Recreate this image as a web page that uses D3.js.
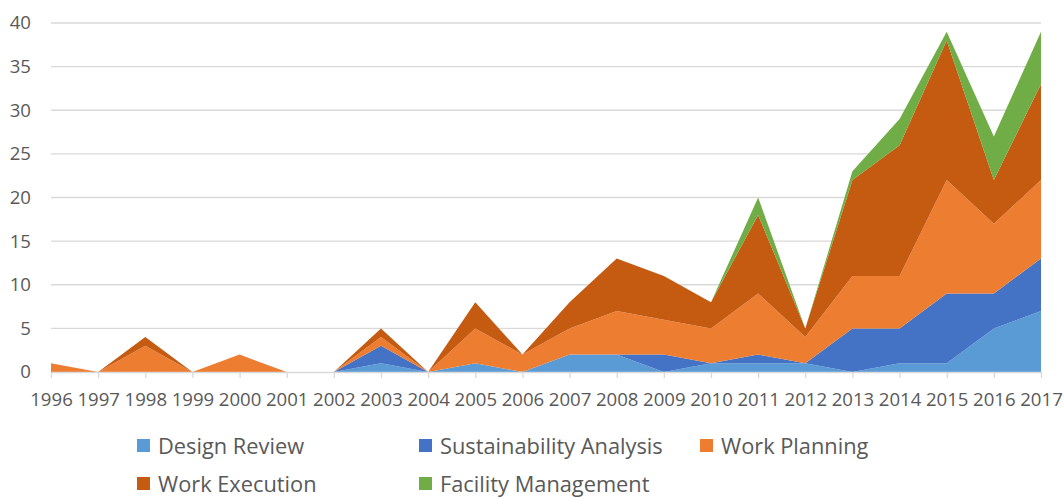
<!DOCTYPE html>
<html>
<head>
<meta charset="utf-8">
<script src="https://cdn.jsdelivr.net/npm/d3@7"></script>
<style>
  html, body { margin: 0; padding: 0; background: #fff; }
  svg { display: block; font-family: "Open Sans", "Liberation Sans", sans-serif; }
</style>
</head>
<body>
<svg id="chart" width="1064" height="498"></svg>
<script>
// Yearly publication counts per application area
const years = [1996, 1997, 1998, 1999, 2000, 2001, 2002, 2003, 2004, 2005, 2006,
               2007, 2008, 2009, 2010, 2011, 2012, 2013, 2014, 2015, 2016, 2017];
const designReview           = [0, 0, 0, 0, 0, 0, 0, 1, 0, 1, 0, 2, 2, 0, 1, 1, 1, 0, 1, 1, 5, 7];
const sustainabilityAnalysis = [0, 0, 0, 0, 0, 0, 0, 2, 0, 0, 0, 0, 0, 2, 0, 1, 0, 5, 4, 8, 4, 6];
const workPlanning           = [1, 0, 3, 0, 2, 0, 0, 1, 0, 4, 2, 3, 5, 4, 4, 7, 3, 6, 6, 13, 8, 9];
const workExecution          = [0, 0, 1, 0, 0, 0, 0, 1, 0, 3, 0, 3, 6, 5, 3, 9, 1, 11, 15, 16, 5, 11];
const facilityManagement     = [0, 0, 0, 0, 0, 0, 0, 0, 0, 0, 0, 0, 0, 0, 0, 2, 0, 1, 3, 1, 5, 6];
const seriesNames = ["Design Review", "Sustainability Analysis", "Work Planning",
                     "Work Execution", "Facility Management"];
const seriesColors = ["#5B9BD5", "#4472C4", "#ED7D31", "#C55A11", "#70AD47"];
const yTicks = [0, 5, 10, 15, 20, 25, 30, 35, 40];

const seriesValues = [designReview, sustainabilityAnalysis, workPlanning, workExecution, facilityManagement];
const rows = years.map((yr, i) => {
  const r = { year: yr };
  seriesNames.forEach((n, k) => { r[n] = seriesValues[k][i]; });
  return r;
});

const svg = d3.select("#chart");
const plot = { left: 51, right: 1041, top: 23, bottom: 372 };

const x = d3.scalePoint().domain(years).range([plot.left, plot.right]);
const y = d3.scaleLinear().domain([0, 40]).range([plot.bottom, plot.top]);

// horizontal gridlines
svg.append("g")
  .selectAll("line")
  .data(yTicks.filter(t => t > 0))
  .join("line")
  .attr("x1", plot.left).attr("x2", plot.right)
  .attr("y1", d => y(d)).attr("y2", d => y(d))
  .attr("stroke", "#d9d9d9").attr("stroke-width", 1.3);

// stacked areas
const stack = d3.stack().keys(seriesNames);
const layers = stack(rows);
const area = d3.area()
  .x(d => x(d.data.year))
  .y0(d => y(d[0]))
  .y1(d => y(d[1]));

svg.append("g")
  .selectAll("path")
  .data(layers)
  .join("path")
  .attr("d", area)
  .attr("fill", (d, i) => seriesColors[i]);

// y axis labels
const yAxis = d3.axisLeft(y).tickValues(yTicks).tickSize(0).tickPadding(0);
const yg = svg.append("g").attr("transform", `translate(${plot.left - 20},0)`).call(yAxis);
yg.select(".domain").remove();
yg.selectAll("text")
  .attr("font-size", 18.6).attr("fill", "#595959")
  .attr("font-family", "Open Sans, Liberation Sans, sans-serif");

// x axis with ticks below baseline
const xAxis = d3.axisBottom(x).tickSizeInner(6).tickSizeOuter(0).tickPadding(15);
const xg = svg.append("g").attr("transform", `translate(0,${plot.bottom})`).call(xAxis);
xg.select(".domain").attr("stroke", "#d9d9d9").attr("stroke-width", 1.3);
xg.selectAll(".tick line").attr("stroke", "#d9d9d9").attr("stroke-width", 1.3);
xg.selectAll("text")
  .attr("font-size", 18.6).attr("fill", "#595959")
  .attr("font-family", "Open Sans, Liberation Sans, sans-serif");

// legend
const legendPos = [[137, 446], [419, 446], [700, 446], [137, 484], [419, 484]];
const lg = svg.append("g")
  .selectAll("g")
  .data(seriesNames)
  .join("g")
  .attr("transform", (d, i) => `translate(${legendPos[i][0]},${legendPos[i][1]})`);
lg.append("rect")
  .attr("x", 0).attr("y", -7).attr("width", 13).attr("height", 13)
  .attr("fill", (d, i) => seriesColors[i]);
lg.append("text")
  .attr("x", 21).attr("y", 0).attr("dy", "0.35em")
  .attr("font-size", 21.8).attr("fill", "#595959")
  .text(d => d);
</script>
</body>
</html>
